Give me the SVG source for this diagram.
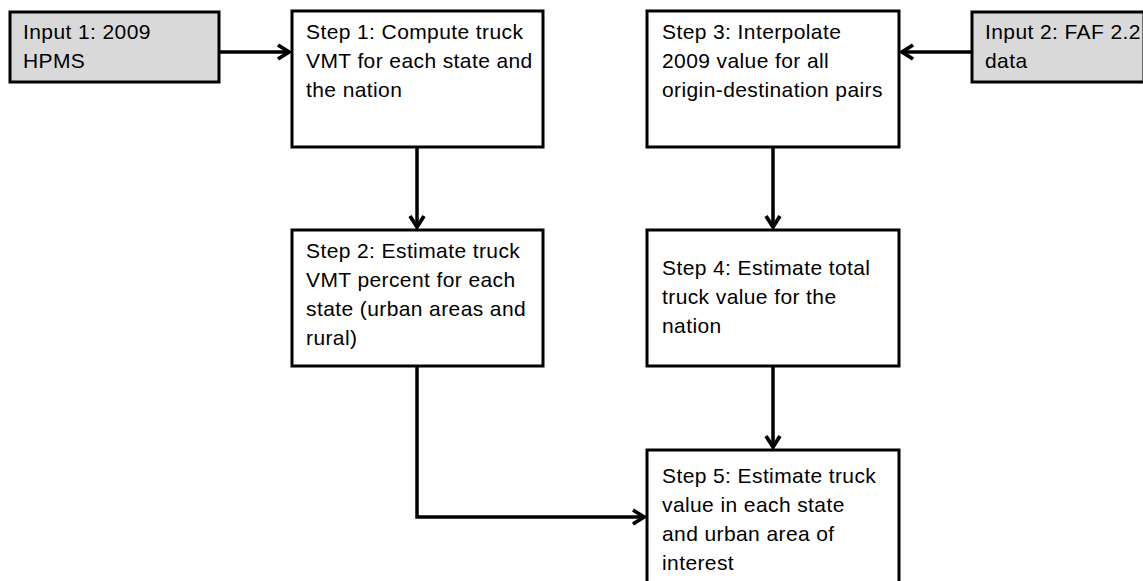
<svg xmlns="http://www.w3.org/2000/svg" width="1143" height="581" viewBox="0 0 1143 581">
<defs>
<style>
.box{fill:#ffffff;stroke:#000000;stroke-width:3}
.input{fill:#d9d9d9;stroke:#000000;stroke-width:3}
.t{font-family:"Liberation Sans",Arial,sans-serif;font-size:21px;fill:#000000;letter-spacing:0.4px}
.c{fill:none;stroke:#000000;stroke-width:3.5}
</style>
<marker id="arr" viewBox="-13 -9 15 18" refX="0" refY="0" markerWidth="15" markerHeight="18" markerUnits="userSpaceOnUse" orient="auto">
<path d="M-11,-7 L0,0 L-11,7" fill="none" stroke="#000000" stroke-width="3.8" stroke-linejoin="miter"/>
</marker>
</defs>
<rect width="1143" height="581" fill="#ffffff"/>
<g id="connectors">
<path class="c" d="M219,52 L289,52" marker-end="url(#arr)"/>
<path class="c" d="M972,52 L902,52" marker-end="url(#arr)"/>
<path class="c" d="M417,147 L417,227" marker-end="url(#arr)"/>
<path class="c" d="M773,147 L773,227" marker-end="url(#arr)"/>
<path class="c" d="M773,366 L773,447" marker-end="url(#arr)"/>
<path class="c" d="M417,366 L417,517 L644,517" marker-end="url(#arr)"/>
</g>
<g id="input1">
<rect class="input" x="10" y="12" width="209" height="70"/>
<text class="t" x="23" y="39">Input 1: 2009</text>
<text class="t" x="23" y="68">HPMS</text>
</g>
<g id="input2">
<rect class="input" x="972" y="12" width="172" height="70"/>
<text class="t" x="985" y="39">Input 2: FAF 2.2</text>
<text class="t" x="985" y="68">data</text>
</g>
<g id="step1">
<rect class="box" x="292" y="11" width="251" height="136"/>
<text class="t" x="306" y="39">Step 1: Compute truck</text>
<text class="t" x="306" y="68">VMT for each state and</text>
<text class="t" x="306" y="97">the nation</text>
</g>
<g id="step3">
<rect class="box" x="647" y="11" width="252" height="136"/>
<text class="t" x="662" y="39">Step 3: Interpolate</text>
<text class="t" x="662" y="68">2009 value for all</text>
<text class="t" x="662" y="97">origin-destination pairs</text>
</g>
<g id="step2">
<rect class="box" x="292" y="230" width="251" height="136"/>
<text class="t" x="306" y="258">Step 2: Estimate truck</text>
<text class="t" x="306" y="287">VMT percent for each</text>
<text class="t" x="306" y="316">state (urban areas and</text>
<text class="t" x="306" y="345">rural)</text>
</g>
<g id="step4">
<rect class="box" x="647" y="230" width="252" height="136"/>
<text class="t" x="662" y="275">Step 4: Estimate total</text>
<text class="t" x="662" y="304">truck value for the</text>
<text class="t" x="662" y="333">nation</text>
</g>
<g id="step5">
<rect class="box" x="647" y="450" width="252" height="145"/>
<text class="t" x="662" y="483">Step 5: Estimate truck</text>
<text class="t" x="662" y="512">value in each state</text>
<text class="t" x="662" y="541">and urban area of</text>
<text class="t" x="662" y="570">interest</text>
</g>
</svg>
